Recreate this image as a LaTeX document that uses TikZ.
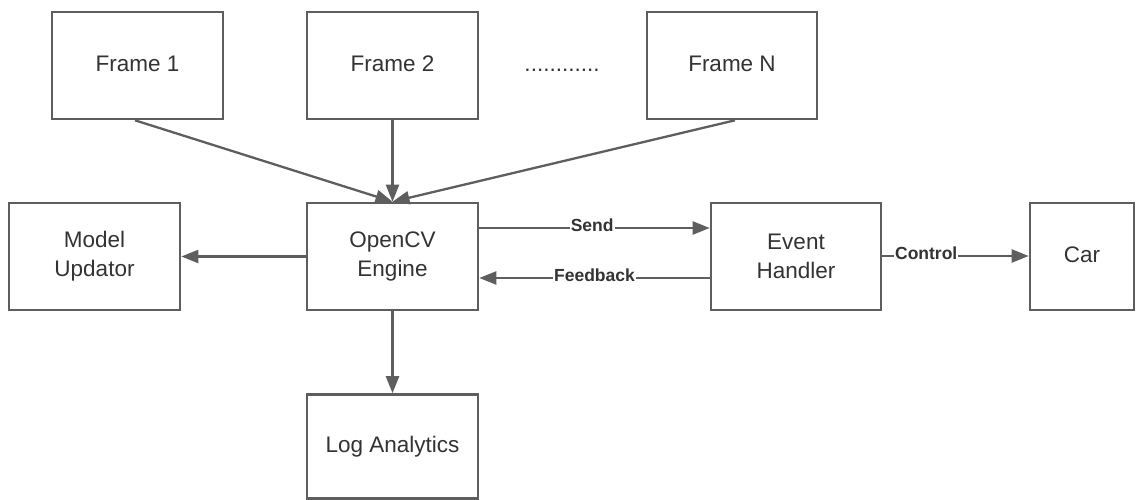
\documentclass[tikz,border=0pt]{standalone}
\usepackage{fontspec}
\setmainfont{Liberation Sans}
\usetikzlibrary{arrows.meta}
\definecolor{edge}{HTML}{5E5E5E}
\definecolor{txt}{HTML}{333333}
\begin{document}
\begin{tikzpicture}[x=1pt,y=-1pt,
  box/.style={draw=edge,line width=2.6pt,fill=white,inner sep=0pt,
    text=txt,align=center,font=\fontsize{22.5}{29}\selectfont},
  conn/.style={draw=edge,line width=2.3pt,-{Triangle[length=17pt,width=13pt]}},
  lbl/.style={fill=white,inner sep=1pt,text=txt,yshift=3pt,font=\fontsize{17.5}{20}\selectfont\bfseries}]
\useasboundingbox (0,0) rectangle (1136,500);
\node[box,minimum width=171pt,minimum height=107pt] (f1) at (137.5,65.5) {\raisebox{3pt}{Frame 1}};
\node[box,minimum width=171pt,minimum height=107pt] (f2) at (392.5,65.5) {\raisebox{3pt}{Frame 2}};
\node[box,minimum width=170pt,minimum height=107pt] (fn) at (732,65.5) {\raisebox{3pt}{Frame N}};
\node[text=txt,font=\fontsize{22.5}{25}\selectfont,inner sep=0pt] (dots) at (562,70) {............};
\node[box,minimum width=171pt,minimum height=107pt] (mu) at (94.5,256.5) {Model\\Updator};
\node[box,minimum width=171pt,minimum height=107pt] (cv) at (392.5,256.5) {OpenCV\\Engine};
\node[box,minimum width=170pt,minimum height=107pt] (eh) at (796,256.5) {Event\\Handler};
\node[box,minimum width=104pt,minimum height=107pt] (car) at (1082,256.5) {\raisebox{3pt}{Car}};
\node[box,minimum width=171pt,minimum height=104pt] (la) at (392.5,446.5) {\raisebox{3pt}{Log Analytics}};
\draw[conn] (f1.south -| 135,0) -- (cv.north);
\draw[conn] (f2.south) -- (cv.north);
\draw[conn] (fn.south -| 735,0) -- (cv.north);
\draw[conn] (cv.west) -- (mu.east);
\draw[conn] (cv.south) -- (la.north);
\draw[conn] (cv.east |- 0,228) -- node[lbl,pos=0.49]{Send} (eh.west |- 0,228);
\draw[conn] (eh.west |- 0,278) -- node[lbl,pos=0.5]{Feedback} (cv.east |- 0,278);
\draw[conn] (eh.east |- 0,256) -- node[lbl,pos=0.3]{Control} (car.west |- 0,256);
\end{tikzpicture}
\end{document}
